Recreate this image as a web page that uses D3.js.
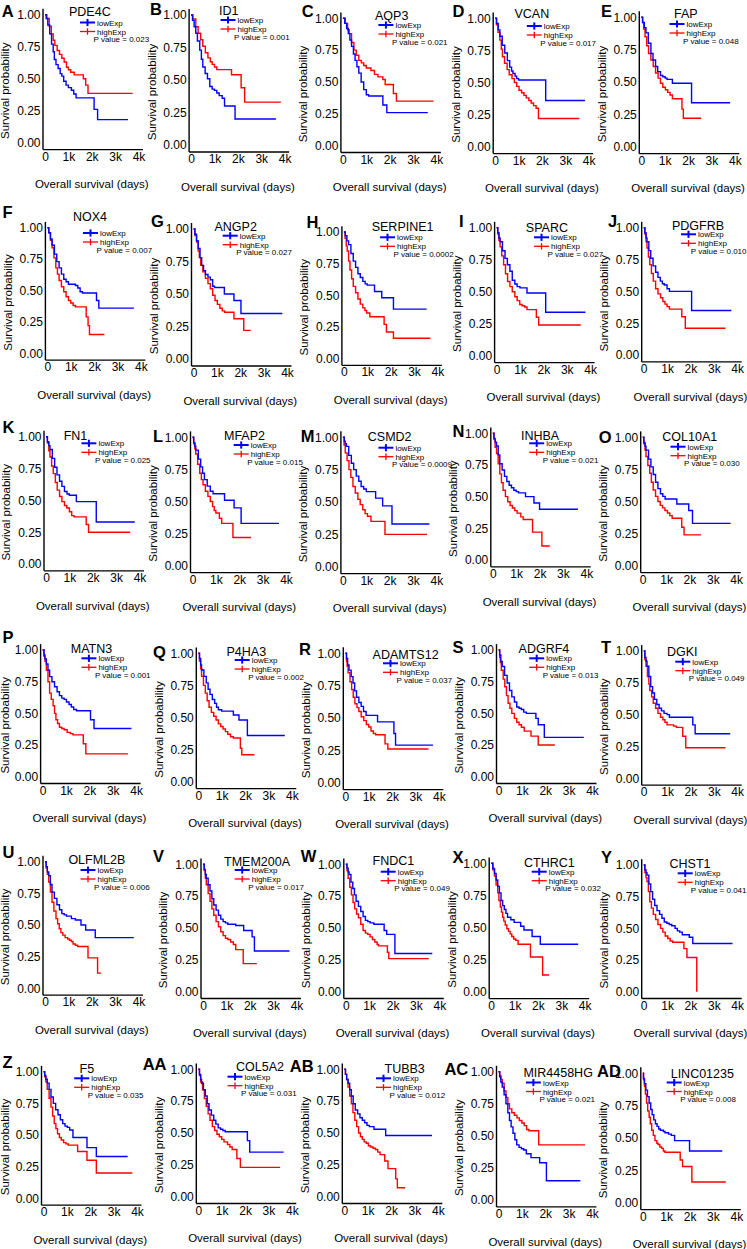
<!DOCTYPE html>
<html><head><meta charset="utf-8">
<script src="https://cdn.jsdelivr.net/npm/d3@7"></script>
<style>html,body{margin:0;padding:0;background:#fff}svg{display:block}text{font-family:"Liberation Sans",Arial,sans-serif}</style>
</head><body><svg id="c" width="747" height="1249"></svg>
<script>
// ---------- data ----------
const letters = ["A","B","C","D","E","F","G","H","I","J","K","L","M","N","O","P","Q","R","S","T","U","V","W","X","Y","Z","AA","AB","AC","AD"];
const genes = ["PDE4C","ID1","AQP3","VCAN","FAP","NOX4","ANGP2","SERPINE1","SPARC","PDGFRB","FN1","MFAP2","CSMD2","INHBA","COL10A1","MATN3","P4HA3","ADAMTS12","ADGRF4","DGKI","OLFML2B","TMEM200A","FNDC1","CTHRC1","CHST1","F5","COL5A2","TUBB3","MIR4458HG","LINC01235"];
const pValues = ["0.023","0.001","0.021","0.017","0.048","0.007","0.027","0.0002","0.027","0.010","0.025","0.015","0.0009","0.021","0.030","0.001","0.002","0.037","0.013","0.049","0.006","0.017","0.049","0.032","0.041","0.035","0.031","0.012","0.021","0.008"];
const xTicks = [0,1000,2000,3000,4000];
const xTickLabels = ["0","1k","2k","3k","4k"];
const yTicks = [0,0.25,0.5,0.75,1];
const yTickLabels = ["0.00","0.25","0.50","0.75","1.00"];
const seriesNames = ["lowExp","highExp"];

// survival steps: [days, survival probability]
const low_PDE4C=[[0,1],[50,0.97],[120,0.92],[200,0.85],[280,0.77],[350,0.71],[400,0.65],[470,0.61],[560,0.58],[650,0.54],[720,0.52],[800,0.48],[900,0.45],[1000,0.43],[1130,0.41],[1230,0.38],[1330,0.35],[2100,0.26],[2250,0.18],[3550,0.18]];
const high_PDE4C=[[0,1],[80,0.97],[180,0.91],[270,0.85],[350,0.80],[420,0.76],[520,0.72],[620,0.69],[720,0.66],[820,0.63],[920,0.59],[1000,0.57],[1100,0.55],[1250,0.53],[1640,0.50],[1740,0.45],[1840,0.385],[3750,0.385]];
const low_ID1=[[0,1],[60,0.96],[130,0.91],[200,0.86],[270,0.80],[370,0.73],[440,0.66],[500,0.60],[600,0.55],[700,0.51],[800,0.45],[900,0.43],[1000,0.42],[1100,0.40],[1200,0.38],[1330,0.36],[1430,0.30],[1880,0.20],[3630,0.20]];
const high_ID1=[[0,1],[80,0.97],[200,0.91],[300,0.86],[410,0.81],[500,0.76],[610,0.71],[720,0.67],[820,0.64],[900,0.62],[1000,0.60],[1100,0.58],[1730,0.54],[2140,0.44],[2290,0.33],[3840,0.33]];
const low_AQP3=[[0,1],[80,0.96],[160,0.92],[230,0.88],[300,0.83],[370,0.78],[450,0.72],[520,0.67],[600,0.62],[680,0.57],[780,0.50],[890,0.44],[1000,0.40],[1100,0.39],[1710,0.32],[1880,0.26],[3630,0.26]];
const high_AQP3=[[0,1],[100,0.96],[200,0.91],[270,0.88],[370,0.81],[470,0.75],[570,0.71],[680,0.67],[790,0.65],[890,0.63],[1000,0.61],[1200,0.59],[1350,0.56],[1500,0.54],[1710,0.52],[1810,0.48],[2160,0.41],[2290,0.35],[3880,0.35]];
const low_VCAN=[[0,1],[60,0.96],[130,0.91],[200,0.86],[300,0.79],[410,0.73],[520,0.67],[620,0.62],[700,0.59],[760,0.57],[850,0.55],[920,0.53],[1000,0.52],[2160,0.36],[3840,0.36]];
const high_VCAN=[[0,1],[50,0.95],[120,0.89],[200,0.83],[260,0.76],[310,0.70],[400,0.65],[510,0.60],[600,0.56],[720,0.53],[820,0.50],[920,0.47],[1020,0.44],[1130,0.42],[1230,0.40],[1330,0.38],[1440,0.36],[1540,0.34],[1640,0.32],[1750,0.30],[1850,0.22],[3600,0.22]];
const low_FAP=[[0,1],[60,0.96],[130,0.92],[200,0.88],[300,0.80],[410,0.72],[500,0.67],[610,0.62],[700,0.58],[820,0.55],[920,0.54],[1020,0.53],[1100,0.52],[1330,0.49],[2150,0.34],[3800,0.34]];
const high_FAP=[[0,1],[50,0.96],[100,0.91],[160,0.85],[230,0.78],[310,0.72],[410,0.67],[510,0.62],[610,0.57],[720,0.53],[820,0.49],[920,0.46],[1030,0.44],[1130,0.42],[1230,0.40],[1330,0.37],[1740,0.29],[1800,0.22],[2560,0.22]];
const low_NOX4=[[0,1],[60,0.96],[130,0.91],[200,0.86],[300,0.79],[400,0.73],[500,0.68],[600,0.63],[700,0.59],[800,0.57],[900,0.55],[1200,0.54],[1300,0.52],[1400,0.49],[1500,0.48],[2100,0.42],[2200,0.36],[3700,0.36]];
const high_NOX4=[[0,1],[60,0.96],[130,0.90],[200,0.84],[280,0.76],[360,0.68],[430,0.63],[500,0.58],[600,0.53],[700,0.49],[800,0.45],[900,0.42],[1000,0.40],[1100,0.38],[1200,0.37],[1660,0.29],[1740,0.22],[1800,0.15],[2440,0.15]];
const low_ANGP2=[[0,1],[60,0.96],[130,0.91],[200,0.85],[280,0.78],[350,0.72],[430,0.68],[510,0.65],[620,0.63],[720,0.61],[820,0.56],[900,0.55],[1320,0.50],[1730,0.45],[2030,0.35],[3800,0.35]];
const high_ANGP2=[[0,1],[60,0.95],[130,0.90],[200,0.83],[250,0.78],[310,0.72],[400,0.67],[510,0.62],[620,0.58],[720,0.54],[820,0.49],[920,0.45],[1020,0.42],[1130,0.39],[1230,0.37],[1330,0.36],[1730,0.31],[2150,0.22],[2450,0.22]];
const low_SERPINE1=[[0,1],[60,0.97],[130,0.93],[200,0.90],[300,0.83],[400,0.77],[500,0.72],[600,0.67],[700,0.64],[810,0.61],[910,0.59],[1000,0.58],[1310,0.53],[1620,0.48],[2120,0.39],[3540,0.39]];
const high_SERPINE1=[[0,1],[50,0.95],[100,0.89],[140,0.85],[200,0.77],[260,0.70],[330,0.63],[400,0.57],[500,0.52],[600,0.47],[700,0.43],[810,0.40],[900,0.38],[970,0.36],[1110,0.33],[1720,0.27],[1820,0.21],[2120,0.16],[3700,0.16]];
const low_SPARC=[[0,1],[50,0.96],[100,0.92],[150,0.89],[250,0.82],[360,0.76],[460,0.71],[570,0.66],[670,0.59],[780,0.56],[880,0.54],[1000,0.53],[1300,0.49],[2100,0.34],[3800,0.34]];
const high_SPARC=[[0,1],[50,0.95],[100,0.90],[150,0.85],[220,0.78],[300,0.71],[380,0.64],[470,0.58],[570,0.54],[670,0.50],[780,0.46],[880,0.43],[990,0.40],[1090,0.39],[1200,0.38],[1300,0.36],[1700,0.30],[1800,0.24],[3600,0.24]];
const low_PDGFRB=[[0,1],[50,0.96],[100,0.92],[140,0.89],[220,0.82],[300,0.76],[400,0.70],[510,0.65],[610,0.61],[710,0.58],[800,0.56],[880,0.55],[1000,0.52],[1100,0.50],[2050,0.35],[3750,0.35]];
const high_PDGFRB=[[0,1],[50,0.95],[100,0.89],[140,0.84],[200,0.77],[260,0.71],[330,0.64],[410,0.58],[510,0.52],[610,0.48],[720,0.45],[820,0.42],[910,0.40],[1000,0.38],[1100,0.36],[1630,0.30],[1780,0.21],[3500,0.21]];
const low_FN1=[[0,1],[60,0.96],[120,0.93],[170,0.90],[270,0.83],[370,0.76],[470,0.70],[580,0.65],[680,0.61],[790,0.57],[900,0.55],[1000,0.54],[1300,0.49],[2150,0.33],[3800,0.33]];
const high_FN1=[[0,1],[60,0.95],[120,0.89],[170,0.84],[240,0.77],[310,0.71],[400,0.64],[480,0.58],[580,0.53],[680,0.49],[790,0.46],[890,0.44],[1000,0.41],[1100,0.38],[1200,0.37],[1720,0.31],[1820,0.25],[3600,0.25]];
const low_MFAP2=[[0,1],[50,0.96],[100,0.93],[140,0.90],[250,0.83],[350,0.77],[430,0.72],[510,0.67],[630,0.62],[760,0.58],[880,0.56],[1370,0.51],[1780,0.45],[2080,0.33],[3700,0.33]];
const high_MFAP2=[[0,1],[50,0.95],[100,0.91],[140,0.87],[220,0.79],[310,0.72],[380,0.67],[450,0.63],[550,0.58],[660,0.54],[760,0.50],[860,0.46],[930,0.43],[1000,0.41],[1150,0.37],[1250,0.33],[1730,0.22],[2500,0.22]];
const low_CSMD2=[[0,1],[60,0.97],[100,0.95],[150,0.93],[250,0.86],[360,0.80],[460,0.75],[570,0.70],[680,0.66],[780,0.62],[890,0.60],[1000,0.58],[1400,0.53],[1700,0.47],[2100,0.33],[3700,0.33]];
const high_CSMD2=[[0,1],[50,0.94],[100,0.88],[180,0.82],[260,0.75],[340,0.69],[430,0.62],[530,0.57],[640,0.52],[740,0.48],[850,0.44],[950,0.41],[1050,0.39],[1200,0.35],[1800,0.25],[3600,0.25]];
const low_INHBA=[[0,1],[50,0.96],[100,0.93],[160,0.90],[230,0.83],[300,0.76],[400,0.71],[500,0.66],[600,0.62],[700,0.59],[800,0.57],[900,0.55],[1000,0.54],[1100,0.53],[1400,0.50],[1760,0.45],[2000,0.40],[3640,0.40]];
const high_INHBA=[[0,1],[50,0.95],[100,0.89],[160,0.84],[230,0.76],[300,0.68],[370,0.61],[440,0.55],[540,0.50],[640,0.46],[740,0.43],[840,0.41],[940,0.39],[1040,0.37],[1200,0.34],[1300,0.32],[1700,0.22],[2100,0.11],[2440,0.11]];
const low_COL10A1=[[0,1],[50,0.96],[100,0.93],[140,0.90],[250,0.83],[350,0.77],[450,0.71],[550,0.65],[650,0.60],[760,0.56],[860,0.54],[960,0.52],[1460,0.48],[1970,0.43],[2130,0.33],[3760,0.33]];
const high_COL10A1=[[0,1],[50,0.95],[100,0.90],[140,0.85],[220,0.78],[300,0.72],[370,0.65],[450,0.59],[550,0.54],[650,0.50],[750,0.47],[850,0.45],[950,0.43],[1060,0.41],[1160,0.39],[1260,0.37],[1670,0.30],[1770,0.24],[2500,0.24]];
const low_MATN3=[[0,1],[60,0.96],[100,0.93],[160,0.89],[230,0.84],[300,0.79],[400,0.75],[510,0.71],[620,0.67],[720,0.64],[820,0.62],[920,0.61],[1020,0.59],[1130,0.57],[1230,0.55],[1330,0.53],[1450,0.52],[2050,0.45],[2200,0.38],[3800,0.38]];
const high_MATN3=[[0,1],[60,0.95],[100,0.91],[160,0.84],[230,0.75],[300,0.66],[370,0.61],[450,0.56],[510,0.50],[570,0.45],[640,0.42],[720,0.39],[820,0.38],[920,0.37],[1050,0.35],[1190,0.34],[1300,0.33],[1740,0.26],[1850,0.18],[3650,0.18]];
const low_P4HA3=[[0,1],[50,0.96],[100,0.91],[140,0.87],[240,0.82],[340,0.77],[420,0.72],[500,0.68],[600,0.64],[700,0.61],[780,0.58],[860,0.56],[1000,0.55],[1500,0.52],[1740,0.48],[2100,0.36],[3700,0.36]];
const high_P4HA3=[[0,1],[50,0.94],[100,0.88],[140,0.82],[220,0.75],[300,0.69],[380,0.63],[460,0.58],[560,0.54],[660,0.51],[760,0.48],[860,0.45],[960,0.43],[1060,0.41],[1160,0.39],[1260,0.37],[1380,0.35],[1500,0.34],[1800,0.26],[1860,0.21],[2400,0.21]];
const low_ADAMTS12=[[0,1],[50,0.96],[100,0.91],[160,0.87],[250,0.82],[330,0.77],[400,0.71],[480,0.66],[580,0.62],[680,0.59],[780,0.55],[890,0.52],[1380,0.47],[2080,0.38],[2150,0.29],[3750,0.29]];
const high_ADAMTS12=[[0,1],[50,0.94],[80,0.90],[120,0.85],[200,0.78],[270,0.72],[340,0.66],[410,0.61],[500,0.58],[580,0.55],[680,0.51],[790,0.48],[900,0.45],[1000,0.43],[1100,0.40],[1200,0.38],[1300,0.37],[1700,0.30],[1820,0.26],[3560,0.26]];
const low_ADGRF4=[[0,1],[50,0.96],[100,0.91],[160,0.87],[260,0.80],[370,0.74],[470,0.68],[570,0.63],[680,0.59],[780,0.55],[880,0.54],[980,0.53],[1080,0.51],[1190,0.50],[1600,0.46],[1700,0.41],[1960,0.31],[3650,0.31]];
const high_ADGRF4=[[0,1],[50,0.94],[80,0.90],[120,0.84],[200,0.77],[270,0.71],[340,0.64],[410,0.58],[490,0.54],[570,0.50],[680,0.46],[780,0.43],[880,0.41],[980,0.39],[1100,0.36],[1390,0.32],[1700,0.25],[2410,0.25]];
const low_DGKI=[[0,1],[50,0.95],[100,0.92],[140,0.88],[220,0.80],[300,0.72],[380,0.67],[460,0.62],[560,0.58],[660,0.55],[760,0.53],[870,0.51],[1000,0.50],[1100,0.48],[2100,0.42],[2200,0.35],[3700,0.35]];
const high_DGKI=[[0,1],[50,0.93],[100,0.88],[160,0.80],[220,0.74],[260,0.69],[340,0.64],[410,0.59],[510,0.55],[610,0.51],[720,0.48],[820,0.46],[910,0.44],[1000,0.42],[1280,0.41],[1400,0.40],[1670,0.33],[1800,0.24],[3500,0.24]];
const low_OLFML2B=[[0,1],[50,0.96],[100,0.92],[160,0.89],[230,0.82],[300,0.76],[400,0.71],[510,0.66],[620,0.62],[720,0.59],[820,0.58],[920,0.57],[1130,0.55],[1300,0.54],[1540,0.50],[1740,0.46],[2150,0.40],[3800,0.40]];
const high_OLFML2B=[[0,1],[50,0.95],[100,0.90],[160,0.84],[230,0.76],[300,0.68],[380,0.61],[470,0.55],[540,0.51],[610,0.47],[680,0.44],[760,0.42],[860,0.40],[970,0.39],[1050,0.38],[1130,0.37],[1200,0.35],[1300,0.34],[1400,0.33],[1840,0.24],[2250,0.12],[2400,0.12]];
const low_TMEM200A=[[0,1],[50,0.96],[100,0.92],[140,0.89],[220,0.84],[300,0.79],[380,0.73],[460,0.68],[560,0.64],[660,0.60],[760,0.57],[860,0.55],[960,0.54],[1060,0.53],[1400,0.52],[1740,0.48],[2100,0.43],[2200,0.32],[3700,0.32]];
const high_TMEM200A=[[0,1],[50,0.95],[100,0.89],[140,0.84],[220,0.77],[300,0.71],[380,0.65],[460,0.60],[560,0.55],[660,0.51],[760,0.47],[860,0.44],[960,0.42],[1060,0.41],[1180,0.39],[1300,0.37],[1400,0.33],[1720,0.22],[2300,0.22]];
const low_FNDC1=[[0,1],[50,0.97],[100,0.94],[140,0.92],[220,0.86],[300,0.81],[370,0.76],[440,0.71],[540,0.67],[640,0.63],[740,0.59],[840,0.56],[940,0.55],[1040,0.54],[1200,0.53],[1640,0.48],[1750,0.45],[2100,0.30],[3700,0.30]];
const high_FNDC1=[[0,1],[50,0.95],[100,0.89],[170,0.82],[240,0.76],[310,0.70],[380,0.65],[460,0.61],[540,0.58],[640,0.53],[740,0.48],[840,0.46],[940,0.45],[1040,0.43],[1140,0.41],[1240,0.39],[1340,0.37],[1400,0.36],[1780,0.31],[1840,0.26],[3550,0.26]];
const low_CTHRC1=[[0,1],[70,0.96],[140,0.92],[210,0.87],[280,0.82],[350,0.77],[420,0.71],[490,0.67],[560,0.64],[630,0.61],[700,0.58],[840,0.56],[980,0.54],[1260,0.51],[1400,0.48],[1750,0.43],[2100,0.37],[3720,0.37]];
const high_CTHRC1=[[0,1],[70,0.95],[140,0.90],[210,0.83],[280,0.77],[330,0.71],[390,0.66],[440,0.62],[490,0.58],[540,0.55],[600,0.52],[670,0.49],[740,0.47],[810,0.45],[880,0.43],[960,0.41],[1050,0.40],[1150,0.37],[1680,0.27],[2200,0.13],[2480,0.13]];
const low_CHST1=[[0,1],[50,0.96],[100,0.94],[140,0.92],[220,0.85],[300,0.79],[380,0.73],[470,0.68],[570,0.64],[680,0.61],[780,0.58],[880,0.55],[990,0.54],[1090,0.53],[1200,0.52],[1340,0.50],[1440,0.48],[1540,0.47],[1650,0.45],[1950,0.43],[2100,0.38],[3800,0.38]];
const high_CHST1=[[0,1],[50,0.94],[100,0.90],[140,0.87],[200,0.79],[260,0.71],[330,0.66],[410,0.61],[510,0.57],[610,0.53],[720,0.50],[820,0.47],[920,0.44],[1030,0.42],[1130,0.40],[1240,0.39],[1720,0.34],[1850,0.27],[2270,0]];
const low_F5=[[0,1],[50,0.97],[100,0.94],[160,0.91],[240,0.86],[320,0.80],[420,0.75],[520,0.70],[620,0.66],[720,0.62],[820,0.59],[920,0.57],[1020,0.56],[1120,0.54],[1260,0.48],[1860,0.40],[2260,0.33],[3600,0.33]];
const high_F5=[[0,1],[50,0.96],[100,0.92],[160,0.86],[240,0.79],[320,0.72],[390,0.65],[460,0.59],[530,0.55],[600,0.51],[680,0.48],[760,0.46],[860,0.44],[960,0.43],[1060,0.42],[1460,0.37],[1860,0.30],[2260,0.20],[3800,0.20]];
const low_COL5A2=[[0,1],[50,0.96],[100,0.92],[140,0.89],[220,0.84],[300,0.79],[380,0.73],[460,0.68],[560,0.64],[660,0.60],[750,0.57],[850,0.54],[950,0.53],[1050,0.52],[1150,0.51],[2100,0.44],[2200,0.35],[3650,0.35]];
const high_COL5A2=[[0,1],[50,0.95],[100,0.90],[180,0.84],[260,0.77],[340,0.71],[420,0.65],[500,0.60],[600,0.55],[700,0.52],[800,0.49],[900,0.47],[1000,0.45],[1100,0.43],[1250,0.41],[1350,0.39],[1450,0.37],[1650,0.30],[1800,0.23],[3500,0.23]];
const low_TUBB3=[[0,1],[50,0.96],[100,0.92],[160,0.89],[230,0.84],[300,0.79],[380,0.73],[470,0.68],[570,0.65],[670,0.62],[770,0.60],[870,0.58],[970,0.56],[1070,0.55],[1270,0.53],[1770,0.48],[3750,0.48]];
const high_TUBB3=[[0,1],[50,0.96],[100,0.92],[160,0.86],[230,0.79],[300,0.73],[370,0.66],[450,0.60],[530,0.55],[610,0.50],[690,0.47],[770,0.45],[850,0.43],[940,0.42],[1030,0.40],[1120,0.39],[1230,0.38],[1330,0.37],[1430,0.35],[1530,0.33],[1730,0.28],[1870,0.22],[2200,0.14],[2270,0.07],[2600,0.07]];
const low_MIR4458HG=[[0,1],[50,0.96],[100,0.92],[160,0.88],[240,0.82],[320,0.75],[400,0.68],[470,0.62],[540,0.57],[620,0.52],[700,0.47],[780,0.43],[880,0.41],[980,0.40],[1080,0.39],[1190,0.36],[1390,0.33],[1760,0.29],[2050,0.15],[3500,0.15]];
const high_MIR4458HG=[[0,1],[50,0.97],[100,0.94],[160,0.91],[240,0.85],[320,0.80],[400,0.75],[470,0.71],[570,0.68],[680,0.66],[790,0.64],[890,0.62],[1000,0.60],[1100,0.58],[1200,0.55],[1300,0.54],[1720,0.43],[3700,0.43]];
const low_LINC01235=[[0,1],[30,0.96],[70,0.92],[130,0.87],[200,0.82],[270,0.77],[340,0.72],[400,0.68],[470,0.64],[540,0.61],[610,0.59],[680,0.57],[750,0.56],[880,0.55],[950,0.54],[1100,0.53],[1220,0.52],[1360,0.48],[2000,0.40],[3400,0.40]];
const high_LINC01235=[[0,1],[30,0.95],[70,0.90],[110,0.84],[160,0.77],[210,0.71],[270,0.66],[320,0.61],[380,0.56],[450,0.52],[520,0.48],[600,0.46],[650,0.45],[730,0.43],[810,0.42],[880,0.40],[950,0.39],[1600,0.33],[1700,0.28],[2100,0.16],[3550,0.16]];

const lowCurves=[low_PDE4C,low_ID1,low_AQP3,low_VCAN,low_FAP,low_NOX4,low_ANGP2,low_SERPINE1,low_SPARC,low_PDGFRB,low_FN1,low_MFAP2,low_CSMD2,low_INHBA,low_COL10A1,low_MATN3,low_P4HA3,low_ADAMTS12,low_ADGRF4,low_DGKI,low_OLFML2B,low_TMEM200A,low_FNDC1,low_CTHRC1,low_CHST1,low_F5,low_COL5A2,low_TUBB3,low_MIR4458HG,low_LINC01235];
const highCurves=[high_PDE4C,high_ID1,high_AQP3,high_VCAN,high_FAP,high_NOX4,high_ANGP2,high_SERPINE1,high_SPARC,high_PDGFRB,high_FN1,high_MFAP2,high_CSMD2,high_INHBA,high_COL10A1,high_MATN3,high_P4HA3,high_ADAMTS12,high_ADGRF4,high_DGKI,high_OLFML2B,high_TMEM200A,high_FNDC1,high_CTHRC1,high_CHST1,high_F5,high_COL5A2,high_TUBB3,high_MIR4458HG,high_LINC01235];

// ---------- layout (pixel placement per panel) ----------
// [x of 0-tick, y of 1.00, y of 0.00, title left, title y, legend x, legend y, letter x, letter baseline]
const layout=[
[45.5,14.7,142.7,69,11.7,80,22.5,1.7,16.7],
[191.6,15,145,219,10,220.5,20,150,15],
[343.4,18.3,145.7,375,15,378.4,25,301.7,16.7],
[495.7,18.3,146.7,514.5,13.3,526.8,26,452.6,16.7],
[641.8,17.3,146.7,674,13.3,669.5,24,601,16.7],
[47.9,227.7,353.3,73,216.7,83,233,2.4,218],
[194,229,359,214.5,226.7,222.7,235.7,151,226.7],
[344.4,232,358.5,371.7,226.7,380,237.3,306.5,228],
[497.1,227.7,355.7,525.8,227.7,534,237.3,459,226.7],
[644.2,227.7,355,672,225,681,234.3,608,226.7],
[46.5,436.7,564,63.7,435,81.4,443.3,2.4,433.3],
[193,437.3,565.7,224,435,233.7,445,153,441.7],
[343.4,437.3,566.7,367.8,436.7,378.4,447.7,300.8,441.7],
[493.3,433.3,560,521,435,529.2,443.3,452.6,436.7],
[643.2,437.3,565.7,662.3,436.7,670.5,446.7,598.7,443],
[43.1,650,776.7,70.8,648.3,81.4,658.3,2.4,643.3],
[198.8,653.3,781.7,226.5,651.7,234.7,660,153,658.3],
[345.8,653.3,782.7,372.6,654,383,663.3,299,655],
[499,650,776.7,518.6,648.3,529.2,658.3,452.6,653.3],
[644.2,651,778.3,667,651.7,675.3,661.7,601,653.3],
[45.5,861.7,988.3,68.4,859.5,80.5,870,2.4,858.3],
[203.5,864.3,991.7,224,861,234.7,870,153,861.7],
[346.3,864.3,991.7,372.6,860,380.7,871.7,300.8,861.7],
[491.7,863.3,991.7,524,862.5,531.7,871.7,452.6,863.3],
[644.2,865,991.7,669.5,863,677.7,873.3,601,863.3],
[44,1071.7,1198.3,79.5,1068.3,74.2,1078.3,2.4,1068],
[198.8,1069.3,1196.7,236,1066.7,227.5,1076.7,142.7,1070],
[344.8,1069.3,1196.7,384.5,1068.3,376,1078.3,289.8,1071.7],
[499,1071.7,1200,523.4,1072.5,525.9,1082.5,444.4,1075],
[643.3,1073.3,1202.7,670.7,1073,666.7,1082.5,597,1077]
];
const colors={lowExp:"#0000ff",highExp:"#ff0000"};

// ---------- draw ----------
const svg=d3.select("#c");
svg.append("rect").attr("width",747).attr("height",1249).attr("fill","#fff");
const pxPerDay=93.5/4000;

genes.forEach((gene,i)=>{
  const [ox,y1,y0,tx,ty,lx,ly,ltx,lty]=layout[i];
  const g=svg.append("g");
  const x0=ox-0.5;
  const x=d3.scaleLinear().domain([-107,4171]).range([x0-107*pxPerDay,x0+4171*pxPerDay]);
  const span=y0-y1;
  const y=d3.scaleLinear().domain([-0.05,1.05]).range([y0+0.05*span,y1-0.05*span]);

  const ya=g.append("g").attr("transform",`translate(${x.range()[0]},0)`)
    .call(d3.axisLeft(y).tickValues(yTicks).tickFormat(d=>yTickLabels[yTicks.indexOf(d)]).tickSize(0).tickPadding(2).tickSizeOuter(0));
  const xa=g.append("g").attr("transform",`translate(0,${y.range()[0]})`)
    .call(d3.axisBottom(x).tickValues(xTicks).tickFormat(d=>xTickLabels[xTicks.indexOf(d)]).tickSize(0).tickPadding(3).tickSizeOuter(0));
  [ya,xa].forEach(a=>{
    a.select(".domain").attr("stroke","#000").attr("stroke-width",1.4);
    a.selectAll("text").attr("font-size",12).attr("fill","#000").attr("font-family","Liberation Sans, Arial, sans-serif");
  });

  const line=d3.line().x(d=>x(d[0])).y(d=>y(d[1])).curve(d3.curveStepAfter);
  [["highExp",highCurves[i]],["lowExp",lowCurves[i]]].forEach(([name,data])=>{
    g.append("path").datum(data).attr("d",line).attr("fill","none")
      .attr("stroke",colors[name]).attr("stroke-width",1.4);
  });

  // labels
  g.append("text").attr("x",ltx).attr("y",lty).attr("font-size",16.5).attr("font-weight","bold").text(letters[i]);
  g.append("text").attr("x",tx).attr("y",ty+4.5).attr("font-size",12.5).text(gene);
  const labX=Math.max(x.range()[0]-33,8.5);
  g.append("text").attr("transform",`translate(${labX},${(y0+y1)/2+12}) rotate(-90)`)
    .attr("text-anchor","middle").attr("font-size",11.5).text("Survival probability");
  g.append("text").attr("x",x(2000)).attr("y",y0+45.5).attr("text-anchor","middle").attr("font-size",11.5).text("Overall survival (days)");

  // legend
  seriesNames.forEach((name,k)=>{
    const yy=ly+k*9;
    const w=k===0?2:1.3, s=k===0?3.6:3.2;
    g.append("line").attr("x1",lx).attr("x2",lx+15).attr("y1",yy).attr("y2",yy).attr("stroke",colors[name]).attr("stroke-width",w);
    g.append("line").attr("x1",lx+7.5).attr("x2",lx+7.5).attr("y1",yy-s).attr("y2",yy+s).attr("stroke",colors[name]).attr("stroke-width",w);
    g.append("text").attr("x",lx+17).attr("y",yy+3).attr("font-size",8).text(name);
  });
  const pt=g.append("text").attr("x",lx+13.5).attr("y",ly+16.5+3).attr("font-size",8).text("P value = "+pValues[i]);
  const w=pt.node().getComputedTextLength();
  if(lx+13.5+w>746.5) pt.attr("x",746.5-w);
});
</script></body></html>
